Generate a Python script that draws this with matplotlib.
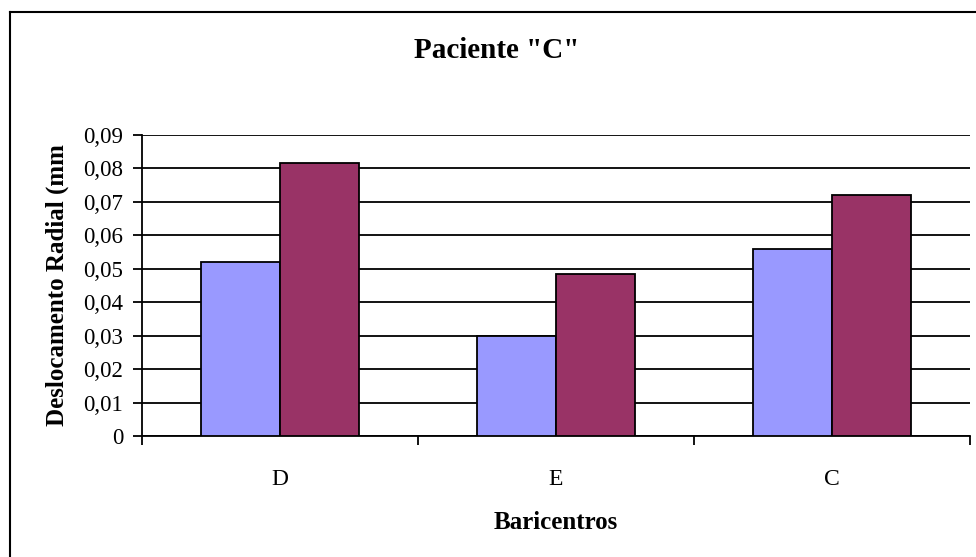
import numpy as np
import matplotlib
matplotlib.use("Agg")
import matplotlib.pyplot as plt
from matplotlib.ticker import FuncFormatter, MultipleLocator
from matplotlib.lines import Line2D

# baricentros e deslocamento radial (mm) para as duas series
categorias = ["D", "E", "C"]
serie_1 = [0.052, 0.030, 0.056]
serie_2 = [0.0815, 0.0485, 0.072]

cor_1 = "#9999FF"
cor_2 = "#993366"

plt.rcParams['font.family'] = ['Liberation Serif', 'DejaVu Serif']

fig = plt.figure(figsize=(9.76, 5.57), dpi=100)
ax = fig.add_axes([142/976, 1 - 436/557, 828/976, (436 - 134.7)/557])

x = np.arange(len(categorias))
w = 1 / 3.5
ax.bar(x - w/2, serie_1, w, color=cor_1, edgecolor="black", linewidth=1.3, zorder=3)
ax.bar(x + w/2, serie_2, w, color=cor_2, edgecolor="black", linewidth=1.3, zorder=3)

ax.set_xlim(-0.5, len(categorias) - 0.5)
ax.set_ylim(0, 0.09)
ax.yaxis.set_major_locator(MultipleLocator(0.01))
ax.yaxis.set_major_formatter(FuncFormatter(
    lambda v, p: "0" if abs(v) < 1e-9 else f"{v:.2f}".replace(".", ",")))
ax.grid(axis="y", color="black", linewidth=1.3, zorder=1)

# rotulos no centro, marcas nas divisas entre categorias
ax.set_xticks(x)
ax.set_xticklabels(categorias)
ax.set_xticks(np.arange(len(categorias) + 1) - 0.5, minor=True)
ax.tick_params(axis="x", which="major", length=0, pad=24, labelsize=17)
ax.tick_params(axis="x", which="minor", length=6.5, width=1.3, direction="out")
ax.tick_params(axis="y", length=6.5, width=1.3, direction="out", pad=7, labelsize=16.5)

for s in ["top", "right"]:
    ax.spines[s].set_visible(False)
for s in ["left", "bottom"]:
    ax.spines[s].set_linewidth(1.3)

ax.set_ylabel("Deslocamento Radial (mm", fontsize=18, fontweight="bold", labelpad=10)
ax.set_xlabel("Baricentros", fontsize=18, fontweight="bold", labelpad=15)

fig.text(497/976, 1 - 51/557, 'Paciente "C"', ha="center", va="center",
         fontsize=21, fontweight="bold")

# moldura do grafico
fig.add_artist(Line2D([10/976, 10/976], [0, 1 - 12/557], transform=fig.transFigure,
                      color="black", linewidth=1.5))
fig.add_artist(Line2D([10/976, 1], [1 - 12/557, 1 - 12/557], transform=fig.transFigure,
                      color="black", linewidth=1.5))

fig.savefig("out.png", dpi=100)
